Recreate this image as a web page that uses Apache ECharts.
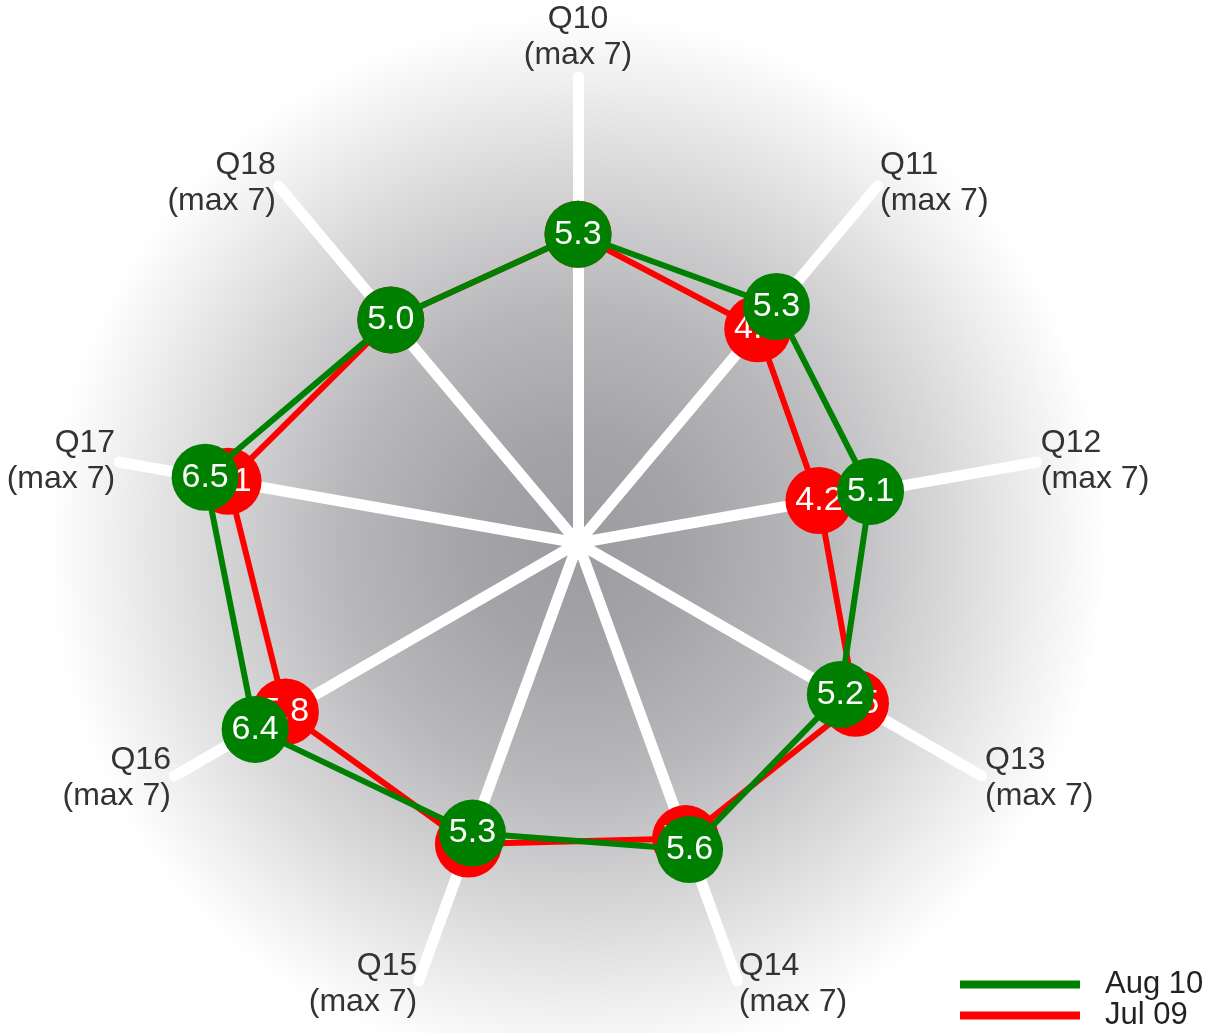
<!DOCTYPE html>
<html>
<head>
<meta charset="utf-8">
<title>Survey scores radar</title>
<script src="https://cdn.jsdelivr.net/npm/echarts@6/dist/echarts.min.js"></script>
<style>
  html, body { margin: 0; padding: 0; background: #ffffff; }
  #chart { width: 1223px; height: 1033px; }
</style>
</head>
<body>
<div id="chart"></div>
<script>
// Questions, listed clockwise from the top
const categories = ['Q10', 'Q11', 'Q12', 'Q13', 'Q14', 'Q15', 'Q16', 'Q17', 'Q18'];
const maxNote = '(max 7)';

// Average scores per question
const aug10 = [5.3, 5.3, 5.1, 5.2, 5.6, 5.3, 6.4, 6.5, 5.0];
const jul09 = [5.3, 4.8, 4.2, 5.5, 5.4, 5.5, 5.8, 6.1, 5.0];

const seriesNames = ['Aug 10', 'Jul 09'];
const seriesColors = ['#008000', '#ff0000'];

// ECharts lays radar indicators out counter-clockwise; reorder so they run clockwise.
const order = [0].concat(categories.map((_, i) => i).slice(1).reverse());
const pick = arr => order.map(i => arr[i]);

const fontFamily = '"Liberation Sans", Arial, sans-serif';

const chart = echarts.init(document.getElementById('chart'));

function radarSeries(name, values, color, z) {
  return {
    type: 'radar',
    name: name,
    z: z,
    symbol: 'circle',
    symbolSize: 67,
    lineStyle: { color: color, width: 6 },
    itemStyle: { color: color },
    label: {
      show: true,
      position: 'inside',
      color: '#ffffff',
      fontSize: 34,
      fontFamily: fontFamily,
      formatter: p => Number(p.value).toFixed(1)
    },
    data: [{ name: name, value: pick(values) }]
  };
}

chart.setOption({
  animation: false,
  backgroundColor: new echarts.graphic.RadialGradient(578 / 1223, 543 / 1033, 530 / 1033, [
    { offset: 0, color: '#9b9ba0' },
    { offset: 0.2, color: '#a4a4a8' },
    { offset: 0.45, color: '#b8b8bb' },
    { offset: 0.7, color: '#d8d8d9' },
    { offset: 0.88, color: '#f0f0f0' },
    { offset: 1, color: '#ffffff' }
  ]),
  legend: {
    orient: 'vertical',
    left: 960,
    top: 969,
    padding: 0,
    itemGap: 0,
    itemWidth: 120,
    itemHeight: 8,
    icon: 'rect',
    data: seriesNames,
    textStyle: {
      color: '#222',
      fontSize: 31,
      lineHeight: 29,
      fontFamily: fontFamily,
      padding: [0, 0, 0, 20]
    }
  },
  radar: {
    center: [578, 543],
    radius: 466,
    startAngle: 90,
    shape: 'polygon',
    indicator: pick(categories).map(c => ({ name: c + '\n' + maxNote, min: 0, max: 8 })),
    nameGap: 4,
    axisName: {
      color: '#333',
      fontSize: 32,
      lineHeight: 36,
      fontFamily: fontFamily
    },
    axisLine: { lineStyle: { color: '#ffffff', width: 11 } },
    splitLine: { show: false },
    splitArea: { show: false },
    axisTick: { show: false },
    axisLabel: { show: false }
  },
  series: [
    radarSeries(seriesNames[1], jul09, seriesColors[1], 2),
    radarSeries(seriesNames[0], aug10, seriesColors[0], 3)
  ]
});
</script>
</body>
</html>
